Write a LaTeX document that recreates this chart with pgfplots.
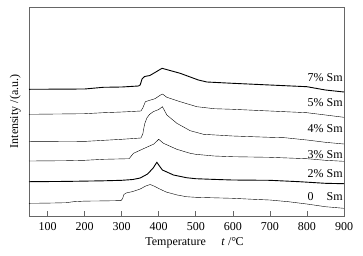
\documentclass[border=0pt]{standalone}
\usepackage{fontspec}
\setmainfont{Liberation Serif}
\usepackage{pgfplots}
\pgfplotsset{compat=1.18}
\begin{document}
\fontsize{12}{14}\selectfont
\begin{tikzpicture}
\begin{axis}[
  scale only axis, width=315pt, height=209pt,
  xmin=50, xmax=900, ymin=0, ymax=209,
  xtick={100,200,...,900}, ytick=\empty,
  xtick pos=bottom, tick align=inside, major tick length=5pt,
  axis line style={gray!80!black, line width=0.6pt},
  tick style={gray!80!black, line width=0.6pt},
  /pgf/number format/assume math mode=true,
  ticklabel style={font=\fontsize{12}{14}\selectfont},
  xticklabel style={yshift=-2pt},
  xlabel={Temperature\hspace{1.3em}\textit{t} /°\kern-0.05em C},
  xlabel style={font=\fontsize{12}{14}\selectfont, yshift=1pt, xshift=8pt},
  ylabel={Intensity /(a.u.)},
  ylabel style={font=\fontsize{12}{14}\selectfont, yshift=4pt},
  cycle list={{black, line width=0.9pt, solid, no marks}},
  clip=false,
]
\addplot coordinates {(50,12.7)(100,12.9)(150,13.3)(170,14.3)(200,14.9)(250,15.1)(298,15.4)(302,17)(306,21.5)(312,23)(330,24.5)(350,27)(365,30)(377,31.5)(390,29.5)(400,27.5)(420,24)(450,21)(475,19.3)(500,18.7)(550,18.2)(600,17.7)(650,16.8)(700,16)(750,14.3)(800,12)(850,9.3)(900,7.7)};
\addplot coordinates {(50,34.3)(150,34.6)(250,35.2)(300,35.7)(330,36.5)(350,38)(370,42)(385,48)(395,53.7)(402,50)(410,46)(440,41)(475,38.3)(500,37.3)(550,36.6)(600,36)(700,35.7)(780,34.3)(850,32.7)(900,32.3)};
\addplot coordinates {(50,55)(150,55.3)(200,55.7)(250,56.7)(320,57.3)(326,60)(332,62.7)(360,67.5)(387,72)(400,76.7)(413,72.7)(449,66.7)(485,62.7)(500,61.7)(550,60)(600,59.3)(700,58.7)(800,57.3)(850,55.7)(900,54.7)};
\addplot coordinates {(50,74.3)(200,74.6)(300,76.7)(352,78)(357,82)(362,92)(368,98)(375,101.5)(385,104.3)(400,106.5)(410,109.3)(422,101)(449,92.7)(485,85.3)(521,81.7)(600,80)(700,78.7)(740,78.3)(800,76)(850,73.7)(900,72)};
\addplot coordinates {(50,101.7)(200,102.3)(250,103.3)(300,104)(352,105)(357,108)(364,114.3)(372,115.3)(390,117.3)(405,121)(410,122)(422,118.7)(458,114.3)(503,109.3)(550,107.3)(600,106.7)(700,105)(800,103.3)(850,101)(900,98.7)};
\addplot coordinates {(50,126.7)(200,127)(250,128.7)(300,129)(345,130)(350,131)(355,137)(362,139.5)(376,140.5)(390,143.5)(409,147.7)(458,142.7)(507,136)(530,134)(600,132.7)(700,131)(800,129.3)(850,126)(900,124)};
\node[anchor=east, inner sep=0pt] at (axis cs:897,138.7) {7\% Sm};
\node[anchor=east, inner sep=0pt] at (axis cs:897,113.3) {5\% Sm};
\node[anchor=east, inner sep=0pt] at (axis cs:897,87.3) {4\% Sm};
\node[anchor=east, inner sep=0pt] at (axis cs:897,61.3) {3\% Sm};
\node[anchor=east, inner sep=0pt] at (axis cs:897,42.7) {2\% Sm};
\node[anchor=east, inner sep=0pt] at (axis cs:897,19.3) {0\phantom{\%} Sm};
\end{axis}
\path (current axis.south west) ++(-29pt,-39pt) (current axis.north east) ++(19pt,7pt);
\end{tikzpicture}
\end{document}
